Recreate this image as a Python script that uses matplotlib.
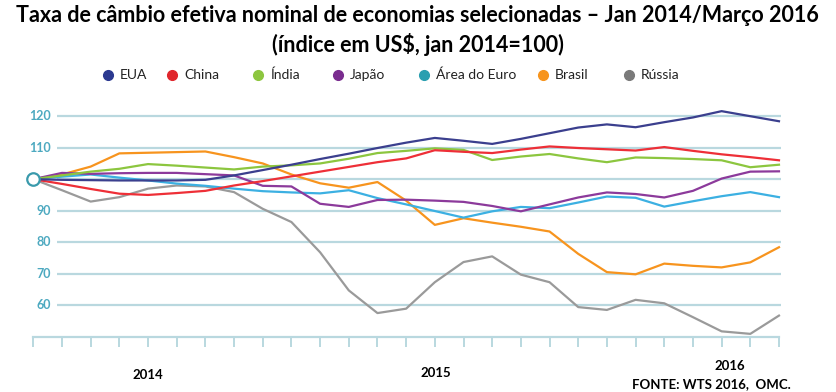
import numpy as np
import matplotlib
matplotlib.use("Agg")
import matplotlib.pyplot as plt
from matplotlib.lines import Line2D

plt.rcParams["font.family"] = ["Lato", "DejaVu Sans"]

# monthly index, Jan 2014 .. Mar 2016 (27 points)
months = np.arange(27)
eua = [100, 99.8, 99.7, 99.6, 99.6, 99.6, 99.8, 101.2, 102.9, 104.6, 106.4, 108.1, 109.9, 111.6,
       113.1, 112.2, 111.2, 112.8, 114.6, 116.4, 117.4, 116.5, 118.1, 119.6, 121.6, 120.0, 118.4]
china = [100, 98.5, 96.9, 95.4, 95.0, 95.6, 96.3, 98.0, 99.4, 100.9, 102.4, 103.9, 105.4, 106.6,
         109.2, 108.7, 108.3, 109.4, 110.4, 109.9, 109.5, 109.1, 110.2, 109.0, 107.9, 107.0, 106.0]
india = [100, 101.2, 102.4, 103.3, 104.8, 104.3, 103.7, 103.1, 104.0, 104.4, 105.0, 106.5, 108.3, 109.0,
         109.8, 109.3, 106.1, 107.2, 108.0, 106.6, 105.4, 106.9, 106.7, 106.4, 106.0, 103.8, 104.6]
japao = [100, 102.0, 101.7, 101.9, 102.0, 102.0, 101.6, 101.2, 97.9, 97.7, 92.2, 91.2, 93.4, 93.5,
         93.2, 92.8, 91.5, 89.8, 92.0, 94.2, 95.8, 95.3, 94.2, 96.3, 100.2, 102.4, 102.5]
euro = [100, 100.8, 101.5, 100.5, 99.6, 98.6, 97.9, 97.0, 96.2, 95.8, 95.5, 96.5, 94.0, 92.0,
        89.9, 87.8, 89.8, 91.2, 90.8, 92.6, 94.5, 94.1, 91.3, 93.0, 94.6, 95.9, 94.3]
brasil = [100, 101.5, 104.0, 108.2, 108.4, 108.6, 108.8, 107.0, 105.0, 101.5, 98.7, 97.3, 99.1, 93.2,
          85.5, 87.6, 86.2, 84.9, 83.4, 76.3, 70.5, 69.8, 73.2, 72.5, 72.0, 73.6, 78.4]
russia = [100, 96.5, 92.9, 94.3, 97.0, 98.0, 97.7, 95.9, 90.6, 86.4, 76.8, 64.7, 57.5, 58.9,
          67.3, 73.7, 75.5, 69.7, 67.3, 59.4, 58.5, 61.7, 60.6, 56.2, 51.7, 50.9, 56.7]

names = ["EUA", "China", "Índia", "Japão", "Área do Euro", "Brasil", "Rússia"]
series = [eua, china, india, japao, euro, brasil, russia]
line_colors = ["#3b3f8e", "#ee2f37", "#8cc63f", "#8c3a9b", "#3cb0e2", "#f7941e", "#9a9a9a"]
legend_colors = ["#2b3990", "#e0262c", "#8dc63f", "#7a2c8f", "#2a9fb0", "#f7941d", "#7a7a7a"]
legend_x = [108, 172, 258, 338, 424, 543, 629]   # marker positions (px)

yticks = [60, 70, 80, 90, 100, 110, 120]
tick_labels = ["60", "70", "80", "90", "", "110", "120"]
year_labels = [("2014", 4.0, 375), ("2015", 14.05, 373), ("2016", 24.3, 366)]

W, H = 836, 392
fig = plt.figure(figsize=(W / 100, H / 100), dpi=100)

# axes geometry in pixels: month 0 at x=33.3, 28.68 px/month; y=50 at 336.7, 3.15 px/unit
px_m, x0 = 28.68, 33.3
xlo, xhi = -0.2, 26.2
ylo, yhi = 50, 125
left = x0 + xlo * px_m
width = (xhi - xlo) * px_m
bottom_px = 336.7
top_px = bottom_px - (yhi - ylo) * 3.15
ax = fig.add_axes([left / W, 1 - bottom_px / H, width / W, (bottom_px - top_px) / H])
ax.set_xlim(xlo, xhi)
ax.set_ylim(ylo, yhi)
ax.axis("off")

grid_c = "#b9d8df"
for y in yticks:
    ax.hlines(y, 0.83, 26.07, color=grid_c, lw=1.6, zorder=1)
for y, lab in zip(yticks, tick_labels):
    ax.text(0.62, y, lab, ha="right", va="center", fontsize=9, fontweight="bold",
            color="#4da9c0", zorder=2)

# baseline with monthly ticks
ax.plot([0, 26], [50, 50], color=grid_c, lw=1.6, zorder=1, clip_on=False)
ax.vlines(months, 50 - 10 / 3.15, 50, color=grid_c, lw=1.4, clip_on=False)

for vals, c in zip(series[::-1], line_colors[::-1]):
    ax.plot(months, vals, color=c, lw=1.6, zorder=3, clip_on=False, solid_joinstyle="round")

ax.plot([0], [100], "o", ms=9, mfc="white", mec="#3a9aac", mew=1.6, zorder=5, clip_on=False)

for lab, xm, ypx in year_labels:
    fig.text((x0 + xm * px_m) / W, 1 - ypx / H, lab, ha="center", va="center",
             fontsize=9.5, fontweight="bold", color="black")
fig.text(711.7 / W, 1 - 384 / H, "FONTE: WTS 2016,  OMC.", ha="center", va="center",
         fontsize=9.5, fontweight="bold", color="black")

# legend
for xm, lab, c in zip(legend_x, names, legend_colors):
    fig.add_artist(Line2D([xm / W], [1 - 75 / H], marker="o", ms=7, color=c, mec=c, lw=0))
    fig.text((xm + 12) / W, 1 - 75 / H, lab, ha="left", va="center", fontsize=10, color="#222222")

fig.text(417.5 / W, 1 - 15 / H,
         "Taxa de câmbio efetiva nominal de economias selecionadas – Jan 2014/Março 2016",
         ha="center", va="center", fontsize=15.5, fontweight="bold")
fig.text(417.5 / W, 1 - 44 / H, "(índice em US$, jan 2014=100)",
         ha="center", va="center", fontsize=15.5, fontweight="bold")

fig.savefig("out.png", dpi=100)
